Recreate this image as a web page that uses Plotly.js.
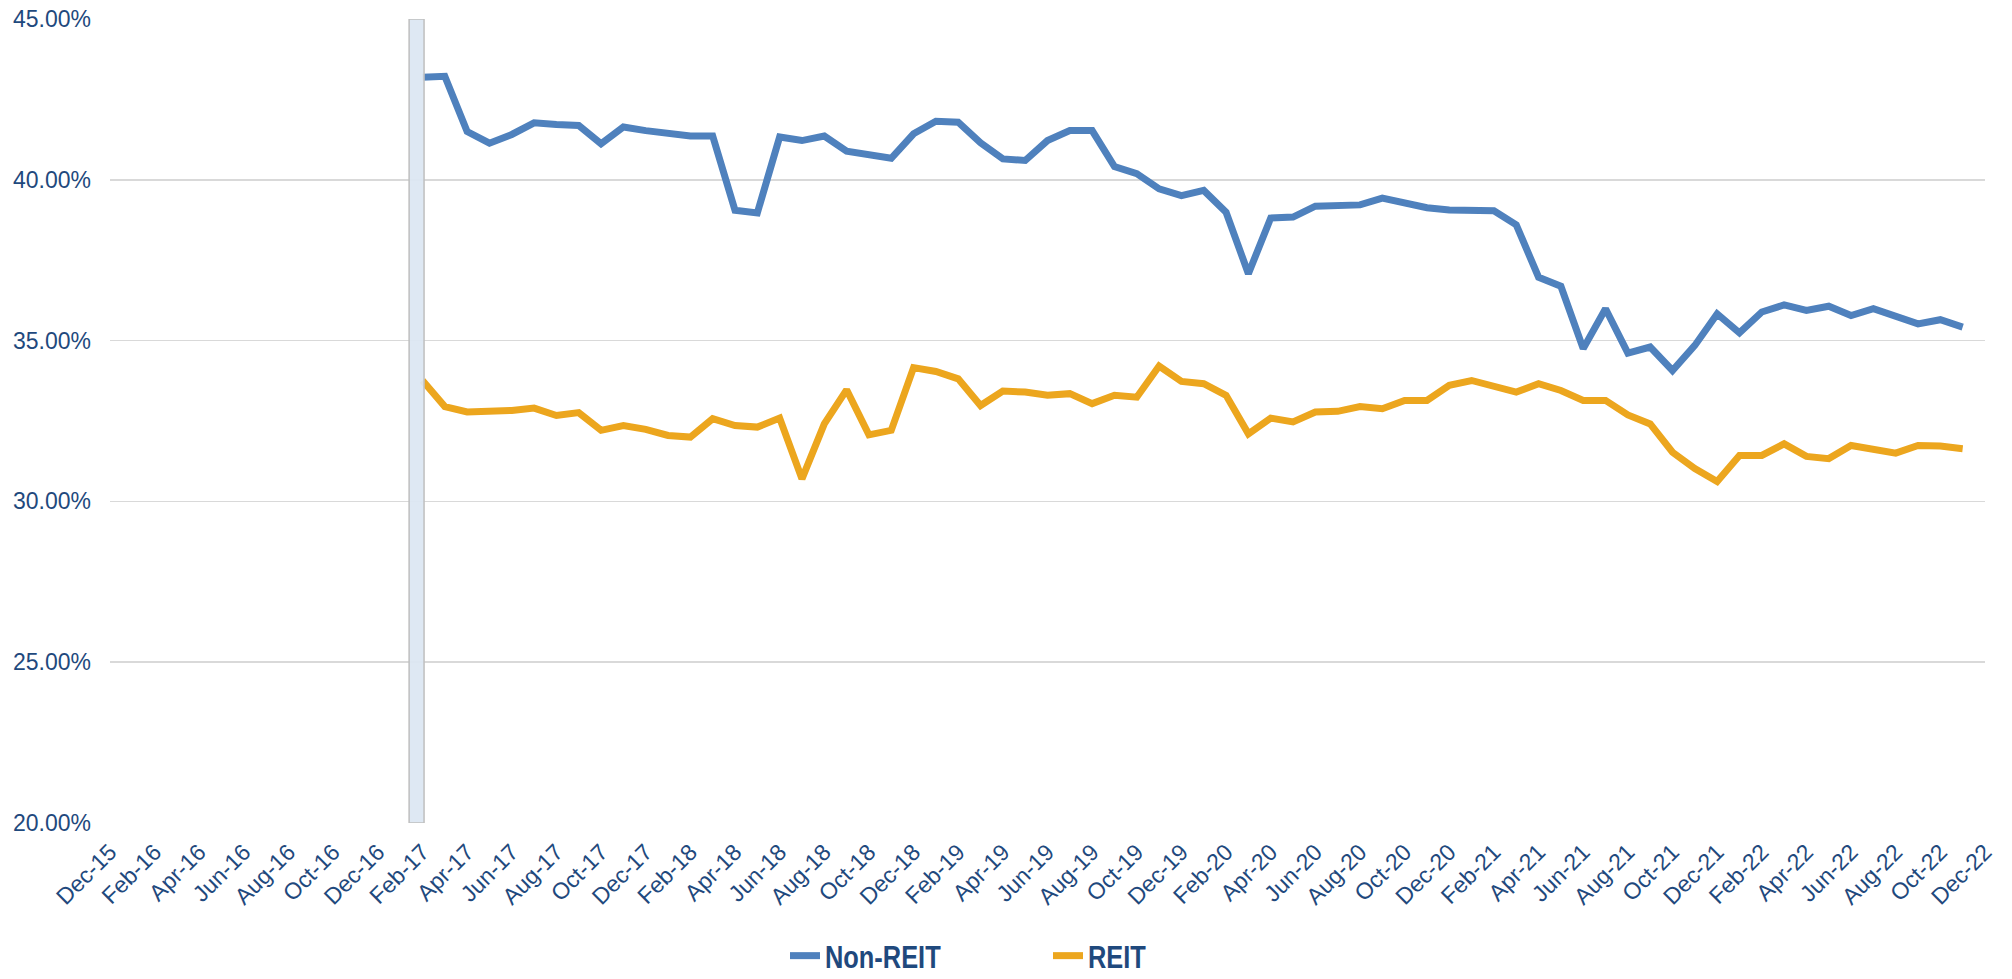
<!DOCTYPE html>
<html>
<head>
<meta charset="utf-8">
<script src="https://cdn.plot.ly/plotly-3.0.1.min.js"></script>
<style>
html,body{margin:0;padding:0;background:#fff;}
#chart{width:2012px;height:979px;}
#chart .legend .legendtext{transform-box:fill-box;transform-origin:left center;transform:scaleX(0.82);}
</style>
</head>
<body>
<div id="chart"></div>
<script>
// Category axis (monthly)
const months = [
  "Dec-15",
  "Jan-16","Feb-16","Mar-16","Apr-16","May-16","Jun-16","Jul-16","Aug-16","Sep-16","Oct-16","Nov-16","Dec-16",
  "Jan-17","Feb-17","Mar-17","Apr-17","May-17","Jun-17","Jul-17","Aug-17","Sep-17","Oct-17","Nov-17","Dec-17",
  "Jan-18","Feb-18","Mar-18","Apr-18","May-18","Jun-18","Jul-18","Aug-18","Sep-18","Oct-18","Nov-18","Dec-18",
  "Jan-19","Feb-19","Mar-19","Apr-19","May-19","Jun-19","Jul-19","Aug-19","Sep-19","Oct-19","Nov-19","Dec-19",
  "Jan-20","Feb-20","Mar-20","Apr-20","May-20","Jun-20","Jul-20","Aug-20","Sep-20","Oct-20","Nov-20","Dec-20",
  "Jan-21","Feb-21","Mar-21","Apr-21","May-21","Jun-21","Jul-21","Aug-21","Sep-21","Oct-21","Nov-21","Dec-21",
  "Jan-22","Feb-22","Mar-22","Apr-22","May-22","Jun-22","Jul-22","Aug-22","Sep-22","Oct-22","Nov-22","Dec-22"
];
// tick labels shown (every other month)
const tickLabels = months.filter((m, i) => i % 2 === 0);

// Series: Feb-17 .. Nov-22 (percent)
const seriesStart = "Feb-17";
const nonReit = [
  43.19, 43.22, 41.50, 41.14, 41.41, 41.77, 41.72, 41.69, 41.12, 41.64, 41.53,
  41.46, 41.36, 41.36, 39.05, 38.97, 41.33, 41.22, 41.36, 40.89, 40.79, 40.67, 41.43,
  41.82, 41.79, 41.15, 40.65, 40.60, 41.22, 41.53, 41.53, 40.41, 40.19, 39.72, 39.51,
  39.67, 38.99, 37.08, 38.81, 38.84, 39.18, 39.18, 39.22, 39.43, 39.28, 39.13, 39.06,
  39.04, 39.04, 38.60, 36.97, 36.69, 34.75, 35.99, 34.61, 34.80, 34.07, 34.85, 35.83,
  35.24, 35.89, 36.11, 35.94, 36.07, 35.78, 35.99, 35.73, 35.52, 35.65, 35.42
];
const reit = [
  33.76, 32.95, 32.78, 32.80, 32.83, 32.90, 32.67, 32.76, 32.21, 32.36, 32.24,
  32.05, 32.00, 32.57, 32.36, 32.31, 32.59, 30.70, 32.41, 33.47, 32.07, 32.21, 34.16,
  34.04, 33.81, 32.98, 33.43, 33.40, 33.30, 33.35, 33.04, 33.30, 33.24, 34.21, 33.73,
  33.66, 33.30, 32.10, 32.59, 32.47, 32.78, 32.80, 32.95, 32.88, 33.14, 33.14, 33.61,
  33.76, 33.59, 33.40, 33.66, 33.45, 33.14, 33.14, 32.69, 32.41, 31.53, 31.02, 30.62,
  31.43, 31.43, 31.79, 31.40, 31.33, 31.74, 31.61, 31.50, 31.74, 31.72, 31.64
];
// Highlight bar
const barCategory = ["Feb-17"];
const barTop = [45];

const yMin = 20, yMax = 45, yStep = 5;

const s0 = months.indexOf(seriesStart);
const xSeries = months.slice(s0, s0 + nonReit.length);

const txtColor = "#1F497D";
const fontMain = "Liberation Sans, Arial, sans-serif";

const traces = [
  {
    type: "scatter", mode: "lines", name: "Non-REIT",
    x: xSeries, y: nonReit,
    line: {color: "#4F81BD", width: 7},
    xaxis: "x", yaxis: "y"
  },
  {
    type: "scatter", mode: "lines", name: "REIT",
    x: xSeries, y: reit,
    line: {color: "#ECA61E", width: 7},
    xaxis: "x", yaxis: "y"
  },
  {
    type: "bar", name: "highlight", showlegend: false, hoverinfo: "skip",
    x: barCategory, y: barTop.map(v => v - yMin), base: yMin,
    width: 0.67, offset: -0.6,
    marker: {color: "rgba(220,230,242,0.93)", line: {color: "#BFBFBF", width: 1.5}},
    xaxis: "x2", yaxis: "y2"
  }
];

const layout = {
  width: 2012, height: 979,
  margin: {l: 110, r: 27, t: 19, b: 156, autoexpand: false},
  paper_bgcolor: "#fff", plot_bgcolor: "#fff",
  font: {family: fontMain, color: txtColor},
  showlegend: true,
  legend: {
    orientation: "h", x: 0.36, xanchor: "left",
    yref: "container", y: 0.0235, yanchor: "middle",
    font: {family: fontMain, size: 31, color: txtColor, weight: "bold"},
    entrywidth: 218, entrywidthmode: "pixels",
    itemclick: false
  },
  xaxis: {
    type: "category", categoryorder: "array", categoryarray: months,
    range: [0, months.length - 1], automargin: false,
    tickmode: "array", tickvals: tickLabels, ticktext: tickLabels,
    tickangle: -45, ticks: "", showgrid: false, zeroline: false, showline: false,
    tickfont: {family: fontMain, size: 23, color: txtColor},
    ticklabelstandoff: 10
  },
  yaxis: {
    range: [yMin, yMax], tick0: yMin, dtick: yStep, automargin: false,
    tickformat: ".2f", ticksuffix: "%",
    showgrid: true, gridcolor: "#D9D9D9", gridwidth: 1.7,
    zeroline: false, showline: false, ticks: "",
    tickfont: {family: fontMain, size: 23, color: txtColor},
    ticklabelstandoff: 18
  },
  xaxis2: {
    type: "category", categoryorder: "array", categoryarray: months,
    range: [0, months.length - 1], overlaying: "x", visible: false, matches: "x", automargin: false
  },
  yaxis2: {
    range: [yMin, yMax], overlaying: "y", visible: false, matches: "y", automargin: false
  }
};

Plotly.newPlot("chart", traces, layout, {displayModeBar: false, staticPlot: true});
</script>
</body>
</html>
